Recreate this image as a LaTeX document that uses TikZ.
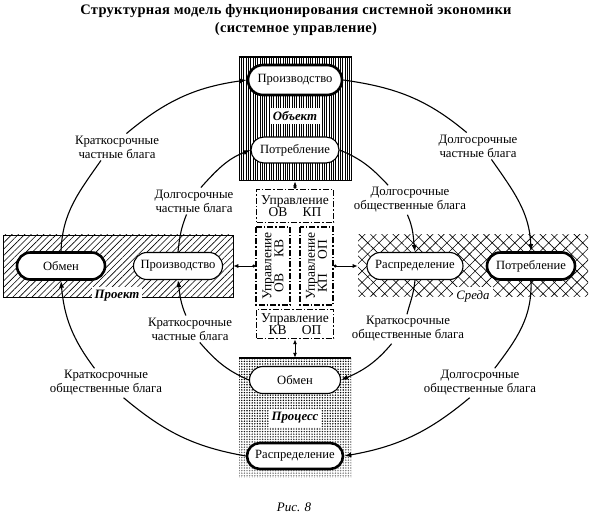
\documentclass[tikz,border=0pt]{standalone}
\usepackage{fontspec}
\setmainfont{Liberation Serif}
\newfontfamily\titlefont[LetterSpace=2]{Liberation Serif}
\usetikzlibrary{shapes.misc,patterns.meta,arrows.meta,positioning}
\tikzstyle{stage} = [rounded rectangle, draw, fill=white, line width=1.1pt, minimum height=27pt, minimum width=93pt, inner sep=2pt, font=\fontsize{12.6}{13}\selectfont]
\tikzstyle{main stage} = [stage, line width=2.6pt]
\tikzstyle{goods} = [fill=white, inner sep=2pt, align=center, font=\fontsize{12.8}{14}\selectfont]
\tikzstyle{area label} = [fill=white, inner sep=3pt, font=\fontsize{12.8}{13}\selectfont\bfseries\itshape]
\tikzstyle{control} = [draw, fill=white, line width=1.5pt, dash pattern=on 6pt off 2pt on 1.5pt off 2pt, inner sep=1pt, align=center, font=\fontsize{13.5}{13}\selectfont]
\tikzstyle{arc} = [line width=1.1pt]
\tikzstyle{flow} = [arc, -{Latex[length=7pt,width=5pt]}]
\tikzstyle{link} = [line width=0.9pt, {Circle[length=3pt]}-{Latex[length=5pt,width=4pt]}]
\newcommand{\upr}[2]{Управление\\[-1pt]\makebox[3.9em]{#1\hfill#2}}
\begin{document}
\begin{tikzpicture}[x=1pt, y=1pt, every text node part/.style={align=center}]
    \useasboundingbox (0,0) rectangle (590,520);
    \node (title) [font=\titlefont\fontsize{14.5}{18}\selectfont\bfseries] at (296,500) {Структурная модель функционирования системной экономики\\(системное управление)};
    \node (obj-area) [draw, line width=1pt, pattern={Lines[angle=90,distance=2.3pt,line width=0.8pt]}, minimum width=112pt, minimum height=124pt, inner sep=0pt] at (295,401) {};
    \draw [line width=2pt] (obj-area.north west) -- (obj-area.north east);
    \node (proj-area) [draw, line width=0.9pt, pattern={Lines[angle=45,distance=4.5pt,line width=0.6pt]}, minimum width=230pt, minimum height=62pt, inner sep=0pt] at (118,254) {};
    \node (env-area) [pattern={Hatch[angle=45,distance=8pt,line width=0.6pt]}, minimum width=230pt, minimum height=62pt, inner sep=0pt] at (473,254) {};
    \node (proc-area) [pattern={Dots[distance=2.6pt,radius=0.8pt]}, minimum width=112pt, minimum height=120pt, inner sep=0pt] at (295,102) {};
    \foreach \k in {1,...,6}
        \fill [white, fill opacity=0.1] (proc-area.south west) rectangle ([yshift=\k*9pt]proc-area.south east);
    \draw [line width=2.2pt] (proc-area.north west) -- (proc-area.north east);
    \node (prod-obj) [main stage, minimum width=98pt, minimum height=30pt] at (295,440) {Производство};
    \node (obj-label) [area label] at (295,404) {Объект};
    \node (cons-obj) [stage, minimum width=92pt, minimum height=26pt] at (295,370) {Потребление};
    \node (exch-proj) [main stage, minimum width=92pt] at (61,254) {Обмен};
    \node (prod-proj) [stage] at (178,254) {Производство};
    \node (proj-label) [area label] at (117,224) {Проект};
    \node (distr-env) [stage, minimum width=100pt] at (415,254) {Распределение};
    \node (cons-env) [main stage, minimum width=92pt] at (531,254) {Потребление};
    \node (env-label) [area label, font=\fontsize{12.8}{13}\selectfont\itshape] at (473,224) {Среда};
    \node (exch-proc) [stage, minimum width=95pt] at (295,140) {Обмен};
    \node (proc-label) [area label] at (295,102) {Процесс};
    \node (distr-proc) [main stage, minimum width=100pt, minimum height=26pt] at (295,64) {Распределение};
    \node (ctl-top) [control, minimum width=77pt, minimum height=33pt] at (295,314) {\upr{ОВ}{КП}};
    \node (ctl-left) [control, rotate=90, minimum width=78pt, minimum height=34pt] at (273,254) {\upr{ОВ}{КВ}};
    \node (ctl-right) [control, rotate=90, minimum width=78pt, minimum height=33pt] at (316.5,254) {\upr{КП}{ОП}};
    \node (ctl-bottom) [control, minimum width=77pt, minimum height=29pt] at (295,196) {\upr{КВ}{ОП}};
    \node (goods-tl) [goods] at (117,373) {Краткосрочные\\частные блага};
    \node (goods-tr) [goods] at (478,374) {Долгосрочные\\частные блага};
    \node (goods-bl) [goods] at (106,137) {Краткосрочные\\общественные блага};
    \node (goods-br) [goods] at (480,137) {Долгосрочные\\общественные блага};
    \node (goods-itl) [goods] at (194,319) {Долгосрочные\\частные блага};
    \node (goods-itr) [goods] at (410,320) {Долгосрочные\\общественные блага};
    \node (goods-ibl) [goods] at (190,191) {Краткосрочные\\частные блага};
    \node (goods-ibr) [goods] at (408,191) {Краткосрочные\\общественные блага};
    \node (caption) [font=\fontsize{13}{14}\selectfont\itshape] at (294,13) {Рис. 8};
    \draw [arc] (exch-proj.north) to[out=88,in=235] (goods-tl.-140);
    \draw [flow] (goods-tl.55) to[out=40,in=188] (prod-obj.west);
    \draw [arc] (prod-obj.east) to[out=-8,in=140] (goods-tr.130);
    \draw [flow] (goods-tr.-45) to[out=-55,in=92] (cons-env.north);
    \draw [arc] (cons-env.south) to[out=-88,in=53] (goods-br.45);
    \draw [flow] (goods-br.-125) to[out=220,in=10] (distr-proc.east);
    \draw [arc] (distr-proc.west) to[out=170,in=-40] (goods-bl.-40);
    \draw [flow] (goods-bl.128) to[out=127,in=-85] (exch-proj.south);
    \draw [arc] (prod-proj.north) to[out=84,in=-112] (goods-itl.-119);
    \draw [flow] (goods-itl.63) to[out=48,in=201] (cons-obj.west);
    \draw [arc] (cons-obj.east) to[out=-22,in=133] (goods-itr.146);
    \draw [flow] (goods-itr.-100) to[out=-66,in=97] (distr-env.north);
    \draw [arc] (distr-env.south) to[out=265,in=75] (goods-ibr.94);
    \draw [flow] (goods-ibr.-138) to[out=230,in=23] (exch-proc.east);
    \draw [arc] (exch-proc.west) to[out=157,in=-49] (goods-ibl.-54);
    \draw [flow] (goods-ibl.107) to[out=113,in=-83] (prod-proj.south);
    \draw [link] (ctl-top.north) -- (ctl-top.north |- obj-area.south);
    \draw [link] (ctl-left.north) -- (ctl-left.north -| proj-area.east);
    \draw [link] (ctl-right.south) -- (ctl-right.south -| env-area.west);
    \draw [link, {Latex[length=5pt,width=4pt]}-{Latex[length=5pt,width=4pt]}] (ctl-bottom.south) -- (ctl-bottom.south |- proc-area.north);
\end{tikzpicture}
\end{document}
